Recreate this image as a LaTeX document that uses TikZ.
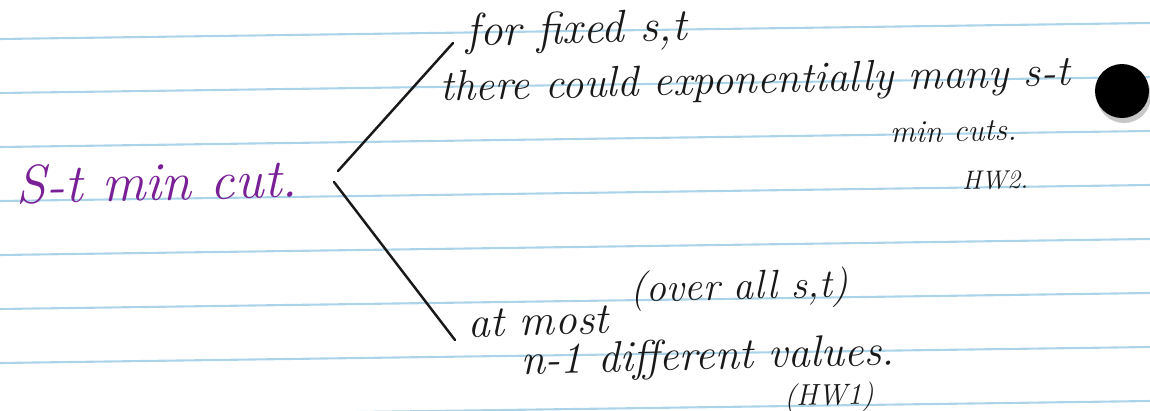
\documentclass[tikz,border=0pt]{standalone}
\usepackage{xcolor}
\usepackage{tikz}
\usetikzlibrary{positioning}
\definecolor{paperblue}{RGB}{172,212,232}
\definecolor{inkpurple}{RGB}{122,32,150}
\definecolor{inkblack}{RGB}{25,25,25}

\begin{document}
\begin{tikzpicture}[x=0.02cm, y=-0.02cm,
    hand/.style={inner sep=0pt, anchor=base west, text=inkblack, rotate=1.4},
    big/.style={hand, font=\fontsize{25}{29}\selectfont\itshape},
    small/.style={hand, font=\fontsize{19}{23}\selectfont\itshape}]
\useasboundingbox (0,0) rectangle (1150,410);

% Paper rules
\foreach \k in {0,...,7} {
    \draw[paperblue, line width=1.2pt] (0,39+54*\k) -- (1150,23+54*\k);
}

% Main topic
\node[hand, text=inkpurple, font=\fontsize{31}{35}\selectfont\itshape] (root) at (16,204) {S-t min cut.};

% Branches
\coordinate (forkup) at (338,171);
\coordinate (forkdown) at (334,182);
\coordinate (tipup) at (453,43);
\coordinate (tipdown) at (455,340);
\draw[inkblack, line width=1.4pt, line cap=round] (forkup) -- (tipup);
\draw[inkblack, line width=1.4pt, line cap=round] (forkdown) -- (tipdown);

% Upper branch
\node[big, font=\fontsize{26}{30}\selectfont\itshape] (fixed) at (466,46) {for fixed s,t};
\node[big, font=\fontsize{24.5}{29}\selectfont\itshape] (many) at (440,101) {there could exponentially many s-t};
\node[small, font=\fontsize{18}{22}\selectfont\itshape] (mincuts) at (890,143) {min cuts.};
\node[small, font=\fontsize{15}{18}\selectfont\itshape] (hwtwo) at (962,190) {HW2.};

% Lower branch
\node[big, font=\fontsize{25}{29}\selectfont\itshape, rotate=0] (atmost) at (468,337) {at most};
\node[small, font=\fontsize{23}{27}\selectfont\itshape] (overall) at (630,302) {(over all s,t)};
\node[big, rotate=0] (values) at (521,374) {n-1 different values.};
\node[small, font=\fontsize{17}{21}\selectfont\itshape, rotate=0] (hwone) at (784,406) {(HW1)};

% Punch hole
\fill[black!22] (1124,96) circle (27);
\fill[black] (1122,91) circle (27);
\end{tikzpicture}
\end{document}
